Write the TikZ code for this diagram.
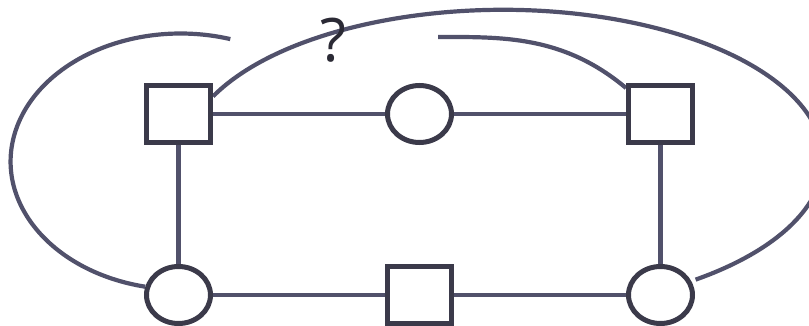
\documentclass[tikz,border=0pt]{standalone}
\usepackage{fontspec}
\setsansfont{Open Sans}
\usetikzlibrary{positioning,shapes.geometric,backgrounds}
\definecolor{edgegray}{HTML}{51516B}
\definecolor{nodegray}{HTML}{3B3A4A}
\definecolor{markgray}{HTML}{2B2A35}

\begin{document}
\begin{tikzpicture}[
    x=1pt, y=1pt,
    node distance=119pt and 172pt,
    sqnode/.style={draw=nodegray, line width=5pt, fill=white, minimum width=64pt, minimum height=57pt},
    cinode/.style={draw=nodegray, line width=5pt, fill=white, ellipse, minimum width=64pt, minimum height=57pt},
    link/.style={draw=edgegray, line width=4.2pt}
]
\useasboundingbox (0,0) rectangle (809,-326);

% nodes
\node[sqnode] (sqa) at (178.5,-114) {};
\node[cinode, right=of sqa] (cia) {};
\node[sqnode, right=of cia] (sqb) {};
\node[cinode, below=of sqa] (cib) {};
\node[sqnode, right=of cib] (sqc) {};
\node[cinode, right=of sqc] (cic) {};

\coordinate (tail) at (438,-37);

\node[text=markgray, font=\sffamily\fontsize{60}{60}\selectfont, inner sep=0pt] (qmark) at (333,-40) {?};

% connectors, kept under the nodes
\begin{scope}[on background layer]
\draw[link] (sqa) -- (cia);
\draw[link] (cia) -- (sqb);
\draw[link] (sqa) -- (cib);
\draw[link] (sqb) -- (cic);
\draw[link] (cib) -- (sqc);
\draw[link] (sqc) -- (cic);
\draw[link] (cib.166) arc[start angle=258, end angle=73, x radius=170, y radius=128];
\draw[link] (sqa.27) arc[start angle=155, end angle=-53, x radius=320, y radius=150];
\draw[link] (tail) .. controls +(63,0) and +(-63,53) .. (sqb.143);
\end{scope}
\end{tikzpicture}
\end{document}
